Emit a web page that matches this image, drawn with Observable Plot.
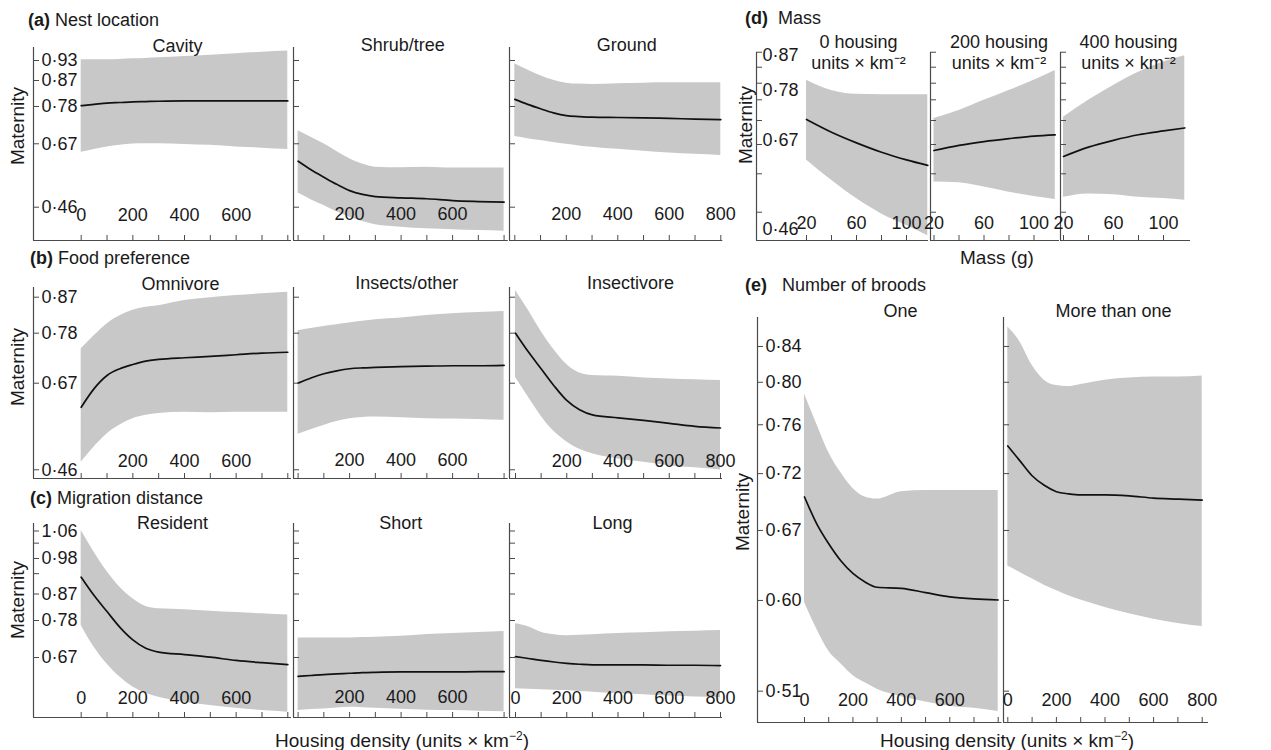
<!DOCTYPE html>
<html><head><meta charset="utf-8">
<script src="https://cdn.jsdelivr.net/npm/d3@7"></script>
<script src="https://cdn.jsdelivr.net/npm/@observablehq/plot@0.6"></script>
<style>
body{margin:0;background:#fff;}
#fig{position:relative;width:1271px;height:750px;overflow:hidden;font-family:"Liberation Sans",Arial,Helvetica,sans-serif;color:#1a1a1a;background:#fff;}
#fig svg{overflow:visible;position:absolute;}
.t{position:absolute;white-space:nowrap;font-size:18px;line-height:1;}
.l{transform:translate(0,-50%);}
.c{transform:translate(-50%,-50%);font-size:19px;}
.rot{transform:translate(-50%,-50%) rotate(-90deg);font-size:19px;}
sup{font-size:12px;vertical-align:7px;line-height:0;}
</style></head><body><div id="fig"></div>
<script>
// ---------- data ----------
const housing = [0, 50, 100, 150, 200, 250, 300, 400, 500, 600, 700, 800];
const mass = [20, 40, 60, 80, 100, 117];

const cavityFit = [0.787, 0.791, 0.795, 0.797, 0.799, 0.800, 0.801, 0.802, 0.802, 0.802, 0.802, 0.802];
const cavityHi  = [0.934, 0.934, 0.934, 0.935, 0.937, 0.938, 0.940, 0.944, 0.948, 0.953, 0.958, 0.962];
const cavityLo  = [0.638, 0.647, 0.655, 0.660, 0.664, 0.665, 0.665, 0.663, 0.660, 0.655, 0.651, 0.647];

const shrubFit = [0.609, 0.582, 0.558, 0.535, 0.515, 0.503, 0.496, 0.492, 0.489, 0.483, 0.480, 0.478];
const shrubHi  = [0.707, 0.686, 0.665, 0.640, 0.617, 0.600, 0.590, 0.588, 0.590, 0.587, 0.587, 0.587];
const shrubLo  = [0.507, 0.486, 0.467, 0.447, 0.430, 0.416, 0.406, 0.398, 0.393, 0.390, 0.387, 0.385];

const groundFit = [0.807, 0.791, 0.777, 0.764, 0.755, 0.752, 0.750, 0.749, 0.748, 0.746, 0.744, 0.742];
const groundHi  = [0.921, 0.901, 0.883, 0.868, 0.859, 0.856, 0.855, 0.857, 0.859, 0.860, 0.860, 0.860];
const groundLo  = [0.688, 0.681, 0.675, 0.669, 0.663, 0.658, 0.654, 0.647, 0.641, 0.635, 0.631, 0.627];

const omniFit = [0.609, 0.653, 0.684, 0.700, 0.710, 0.718, 0.722, 0.726, 0.729, 0.733, 0.737, 0.739];
const omniHi  = [0.747, 0.778, 0.806, 0.825, 0.838, 0.845, 0.849, 0.861, 0.868, 0.873, 0.877, 0.881];
const omniLo  = [0.479, 0.515, 0.546, 0.567, 0.582, 0.590, 0.594, 0.597, 0.596, 0.597, 0.597, 0.597];

const insOtherFit = [0.666, 0.678, 0.688, 0.695, 0.700, 0.702, 0.703, 0.705, 0.706, 0.707, 0.707, 0.708];
const insOtherHi  = [0.790, 0.795, 0.800, 0.804, 0.808, 0.812, 0.816, 0.820, 0.826, 0.830, 0.833, 0.835];
const insOtherLo  = [0.545, 0.556, 0.566, 0.575, 0.582, 0.585, 0.586, 0.584, 0.582, 0.581, 0.580, 0.578];

const insectFit = [0.784, 0.740, 0.700, 0.660, 0.625, 0.603, 0.591, 0.584, 0.578, 0.571, 0.564, 0.560];
const insectHi  = [0.885, 0.838, 0.788, 0.745, 0.710, 0.690, 0.684, 0.682, 0.678, 0.676, 0.674, 0.672];
const insectLo  = [0.680, 0.633, 0.588, 0.552, 0.527, 0.510, 0.499, 0.487, 0.479, 0.471, 0.466, 0.461];

const residentFit = [0.919, 0.862, 0.812, 0.763, 0.724, 0.698, 0.686, 0.678, 0.670, 0.660, 0.653, 0.647];
const residentHi  = [1.064, 0.997, 0.937, 0.888, 0.852, 0.828, 0.821, 0.818, 0.813, 0.809, 0.805, 0.801];
const residentLo  = [0.769, 0.701, 0.649, 0.608, 0.577, 0.558, 0.545, 0.530, 0.520, 0.511, 0.504, 0.499];

const shortFit = [0.610, 0.613, 0.616, 0.618, 0.620, 0.622, 0.623, 0.624, 0.624, 0.624, 0.625, 0.625];
const shortHi  = [0.730, 0.730, 0.730, 0.730, 0.730, 0.731, 0.732, 0.735, 0.741, 0.744, 0.747, 0.750];
const shortLo  = [0.504, 0.507, 0.509, 0.512, 0.514, 0.513, 0.511, 0.508, 0.505, 0.504, 0.502, 0.500];

const longFit = [0.672, 0.666, 0.660, 0.655, 0.651, 0.648, 0.646, 0.646, 0.646, 0.645, 0.645, 0.644];
const longHi  = [0.774, 0.765, 0.748, 0.740, 0.737, 0.738, 0.740, 0.744, 0.746, 0.749, 0.751, 0.753];
const longLo  = [0.572, 0.570, 0.569, 0.567, 0.566, 0.563, 0.561, 0.556, 0.553, 0.549, 0.546, 0.544];

const mass0Fit = [0.717, 0.687, 0.662, 0.640, 0.622, 0.609];
const mass0Hi  = [0.809, 0.785, 0.776, 0.775, 0.775, 0.775];
const mass0Lo  = [0.622, 0.574, 0.531, 0.495, 0.468, 0.444];
const mass200Fit = [0.644, 0.656, 0.665, 0.672, 0.678, 0.681];
const mass200Hi  = [0.719, 0.738, 0.762, 0.785, 0.809, 0.832];
const mass200Lo  = [0.570, 0.568, 0.558, 0.546, 0.536, 0.529];
const mass400Fit = [0.630, 0.652, 0.668, 0.681, 0.690, 0.697];
const mass400Hi  = [0.722, 0.762, 0.797, 0.828, 0.852, 0.867];
const mass400Lo  = [0.534, 0.542, 0.540, 0.534, 0.531, 0.527];

const oneFit = [0.696, 0.671, 0.652, 0.636, 0.624, 0.616, 0.611, 0.610, 0.606, 0.602, 0.600, 0.599];
const oneHi  = [0.793, 0.765, 0.738, 0.719, 0.704, 0.696, 0.694, 0.701, 0.702, 0.702, 0.702, 0.702];
const oneLo  = [0.597, 0.572, 0.551, 0.539, 0.528, 0.521, 0.515, 0.508, 0.503, 0.499, 0.497, 0.494];
const moreFit = [0.744, 0.730, 0.716, 0.707, 0.701, 0.699, 0.698, 0.698, 0.697, 0.695, 0.694, 0.693];
const moreHi  = [0.856, 0.842, 0.820, 0.806, 0.801, 0.800, 0.802, 0.806, 0.808, 0.809, 0.809, 0.810];
const moreLo  = [0.631, 0.625, 0.619, 0.613, 0.608, 0.603, 0.599, 0.592, 0.586, 0.581, 0.577, 0.574];

// tick values (unrounded positions) and their printed labels
const housingTicks = [0, 100, 200, 300, 400, 500, 600, 700, 800];
const massTicks = [20, 40, 60, 80, 100];
const yTicksA = [0.9315, 0.8675, 0.7843, 0.6649, 0.4619];
const yLabelsA = ["0·93", "0·87", "0·78", "0·67", "0·46"];
const yTicksB = [0.869, 0.784, 0.6658, 0.4612];
const yLabelsB = ["0·87", "0·78", "0·67", "0·46"];
const yTicksC = [1.0628, 1.025, 0.9772, 0.930, 0.8667, 0.7842, 0.669];
const yLabelsC = ["1·06", "", "0·98", "", "0·87", "0·78", "0·67"];
const yTicksD = [0.875, 0.8398, 0.8022, 0.7632, 0.7146, 0.6582, 0.5893, 0.499];
const yLabelPosD = [0.8673, 0.785, 0.6676, 0.460];
const yLabelsD = ["0·87", "0·78", "0·67", "0·46"];
const yTicksE = [0.8377, 0.804, 0.764, 0.718, 0.6645, 0.5986, 0.5132];
const yLabelsE = ["0·84", "0·80", "0·76", "0·72", "0·67", "0·60", "0·51"];

// ---------- layout ----------
const rows = {
  a: {top: 47, bottom: 240, cal: [119.2, 312.4, 0.742], yTicks: yTicksA, yLabPos: yTicksA, yLabels: yLabelsA, xlab: 20, ydx: 8},
  b: {top: 287, bottom: 478, cal: [370.35, 423.2, 0.695], yTicks: yTicksB, yLabPos: yTicksB, yLabels: yLabelsB, xlab: 12, ydx: 8},
  c: {top: 523, bottom: 717, cal: [591.8, 321.3, 0.872], yTicks: yTicksC, yLabPos: yTicksC, yLabels: yLabelsC, xlab: 14, ydx: 8},
  d: {top: 52, bottom: 240, cal: [128.33, 425.5, 0.695], yTicks: yTicksD, yLabPos: yLabelPosD, yLabels: yLabelsD, xlab: 12, ydx: 6},
  e: {top: 317, bottom: 722, cal: [492.24, 1062.2, 0.70], yTicks: yTicksE, yLabPos: yTicksE, yLabels: yLabelsE, xlab: 17, ydx: 8}
};
const H3 = {xs: housing, xTicks: housingTicks, xv: [0, 800]};
const M3 = {xs: mass, xTicks: massTicks, xv: [20, 100]};
const facets = [
  {row: "a", ...H3, left: 33, right: 291, px: [80.7, 287.3], title: "Cavity", tx: 177, ty: -2, first: true, xl: [0, 200, 400, 600], fit: cavityFit, lo: cavityLo, hi: cavityHi},
  {row: "a", ...H3, left: 292.7, right: 507.5, px: [297.3, 503.3], title: "Shrub/tree", tx: 402, ty: -3, xl: [200, 400, 600], fit: shrubFit, lo: shrubLo, hi: shrubHi},
  {row: "a", ...H3, left: 508.7, right: 722, px: [514, 720], title: "Ground", tx: 626, ty: -3, xl: [200, 400, 600, 800], fit: groundFit, lo: groundLo, hi: groundHi},
  {row: "b", ...H3, left: 33, right: 291, px: [80.7, 287.3], title: "Omnivore", tx: 180, ty: -4, first: true, xl: [200, 400, 600], fit: omniFit, lo: omniLo, hi: omniHi},
  {row: "b", ...H3, left: 292.7, right: 507.5, px: [297.3, 503.3], title: "Insects/other", tx: 406, ty: -5, xl: [200, 400, 600], fit: insOtherFit, lo: insOtherLo, hi: insOtherHi},
  {row: "b", ...H3, left: 509, right: 722, px: [515, 720], title: "Insectivore", tx: 630, ty: -5, xl: [200, 400, 600, 800], fit: insectFit, lo: insectLo, hi: insectHi},
  {row: "c", ...H3, left: 33, right: 291, px: [80.7, 287.3], title: "Resident", tx: 172, ty: -1, first: true, xl: [0, 200, 400, 600], fit: residentFit, lo: residentLo, hi: residentHi},
  {row: "c", ...H3, left: 292.7, right: 507.5, px: [297.3, 503.3], title: "Short", tx: 400, ty: -1, xl: [200, 400, 600], fit: shortFit, lo: shortLo, hi: shortHi},
  {row: "c", ...H3, left: 509, right: 722, px: [515, 720], title: "Long", tx: 612, ty: -1, xl: [0, 200, 400, 600, 800], fit: longFit, lo: longLo, hi: longHi},
  {row: "d", ...M3, left: 756, right: 928, px: [806, 906], title: "0 housing\nunits × km⁻²", tx: 858, ty: -1, first: true, xl: [20, 60, 100], fit: mass0Fit, lo: mass0Lo, hi: mass0Hi},
  {row: "d", ...M3, left: 929.5, right: 1058.5, px: [933, 1033], title: "200 housing\nunits × km⁻²", tx: 998, ty: -1, xl: [20, 60, 100], fit: mass200Fit, lo: mass200Lo, hi: mass200Hi},
  {row: "d", ...M3, left: 1060, right: 1190, px: [1063, 1163], title: "400 housing\nunits × km⁻²", tx: 1128, ty: -1, xl: [20, 60, 100], fit: mass400Fit, lo: mass400Lo, hi: mass400Hi},
  {row: "e", ...H3, left: 757, right: 1001.5, px: [804, 997.7], title: "One", tx: 900, ty: -7, first: true, xl: [0, 200, 400, 600], fit: oneFit, lo: oneLo, hi: oneHi},
  {row: "e", ...H3, left: 1003, right: 1208, px: [1007.3, 1201.7], title: "More than one", tx: 1113, ty: -7, xl: [0, 200, 400, 600, 800], fit: moreFit, lo: moreLo, hi: moreHi}
];

const fig = document.getElementById("fig");
const AX = "#4a4a4a", TXT = "#1a1a1a";

for (const f of facets) {
  const R = rows[f.row];
  const W = f.right - f.left, H = R.bottom - R.top;
  const k = (f.px[1] - f.px[0]) / (f.xv[1] - f.xv[0]);
  const xmin = f.xv[0] - (f.px[0] - f.left) / k;
  const xmax = f.xv[0] + (f.right - f.px[0]) / k;
  const [a, b, c] = R.cal;
  const vTop = c + (a - R.top) / b, vBot = c + (a - R.bottom) / b;
  const data = f.xs.map((x, i) => ({x, fit: f.fit[i], lo: f.lo[i], hi: f.hi[i]}));
  const marks = [
    Plot.areaY(data, {x: "x", y1: "lo", y2: "hi", fill: "#c8c8c8", curve: "monotone-x"}),
    Plot.lineY(data, {x: "x", y: "fit", stroke: "#111", strokeWidth: 1.7, curve: "monotone-x"}),
    Plot.ruleX([xmin], {stroke: AX, strokeWidth: 1.2}),
    Plot.ruleY([vBot], {stroke: AX, strokeWidth: 1.2}),
    Plot.ruleX(f.xTicks, {x: d => d, stroke: AX, insetTop: H - 5}),
    Plot.ruleY(R.yTicks, {y: d => d, stroke: AX, insetRight: W - 6}),
    Plot.text(f.xl, {x: d => d, frameAnchor: "bottom", dy: -R.xlab, text: d => String(d), fontSize: 18, fill: TXT}),
    Plot.text([f.title], {frameAnchor: "top-left", dx: f.tx - f.left, dy: f.ty, textAnchor: "middle", text: d => d, fontSize: 18, fill: TXT, lineHeight: 1.2, lineAnchor: "middle"})
  ];
  if (f.first) {
    const labs = R.yLabPos.map((v, i) => ({v, s: R.yLabels[i]})).filter(d => d.s);
    marks.push(Plot.text(labs, {y: "v", frameAnchor: "left", dx: R.ydx, textAnchor: "start", text: "s", fontSize: 18, fill: TXT}));
  }
  const svg = Plot.plot({
    width: W, height: H,
    marginTop: 0, marginRight: 0, marginBottom: 0, marginLeft: 0,
    x: {domain: [xmin, xmax], axis: null},
    y: {domain: [vBot, vTop], axis: null},
    style: {background: "transparent", fontFamily: "'Liberation Sans', Arial, sans-serif", fontSize: "18px", overflow: "visible", maxWidth: "none"},
    marks
  });
  svg.style.left = f.left + "px";
  svg.style.top = R.top + "px";
  fig.appendChild(svg);
}

// ---------- surrounding text ----------
const texts = [
  {cls: "l", x: 28, y: 20, html: "<b>(a)</b> Nest location"},
  {cls: "l", x: 30, y: 258, html: "<b>(b)</b> Food preference"},
  {cls: "l", x: 30, y: 498, html: "<b>(c)</b> Migration distance"},
  {cls: "l", x: 745, y: 18, html: "<b>(d)</b>&nbsp;&nbsp;Mass"},
  {cls: "l", x: 745, y: 285, html: "<b>(e)</b>&nbsp;&nbsp;&nbsp;Number of broods"},
  {cls: "rot", x: 17, y: 126, html: "Maternity"},
  {cls: "rot", x: 17, y: 367, html: "Maternity"},
  {cls: "rot", x: 17, y: 600, html: "Maternity"},
  {cls: "rot", x: 745, y: 125, html: "Maternity"},
  {cls: "rot", x: 742, y: 512, html: "Maternity"},
  {cls: "c", x: 402, y: 740, html: "Housing density (units × km<sup>−2</sup>)"},
  {cls: "c", x: 997, y: 257, html: "Mass (g)"},
  {cls: "c", x: 1007, y: 740, html: "Housing density (units × km<sup>−2</sup>)"}
];
for (const t of texts) {
  const d = document.createElement("div");
  d.className = "t " + t.cls;
  d.style.left = t.x + "px";
  d.style.top = t.y + "px";
  d.innerHTML = t.html;
  fig.appendChild(d);
}
</script></body></html>
